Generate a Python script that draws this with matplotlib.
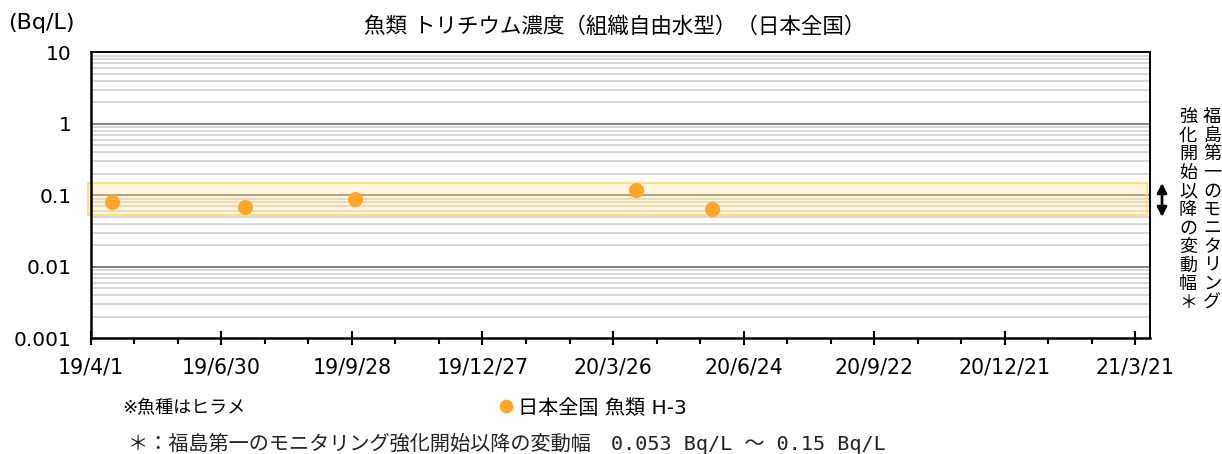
import numpy as np
import pandas as pd
import matplotlib
matplotlib.use("Agg")
from matplotlib import pyplot as plt
import matplotlib.dates as mdates
from matplotlib.patches import Rectangle

plt.rcParams['font.family'] = ['DejaVu Sans', 'Noto Sans CJK JP']

# sample dates and tritium (OBT) concentration, Bq/L
sample_dates = ["2019-04-16", "2019-07-16", "2019-09-30", "2020-04-11", "2020-06-02"]
h3_values = [0.080, 0.069, 0.089, 0.119, 0.064]

# range since start of enhanced monitoring, Bq/L
band_low = 0.053
band_high = 0.15

tick_dates = ["2019-04-01", "2019-06-30", "2019-09-28", "2019-12-27", "2020-03-26",
              "2020-06-24", "2020-09-22", "2020-12-21", "2021-03-21"]
tick_labels = ["19/4/1", "19/6/30", "19/9/28", "19/12/27", "20/3/26",
               "20/6/24", "20/9/22", "20/12/21", "21/3/21"]
y_ticks = [0.001, 0.01, 0.1, 1, 10]
y_labels = ["0.001", "0.01", "0.1", "1", "10"]

title = "魚類 トリチウム濃度（組織自由水型）（日本全国）"
series_name = "日本全国 魚類 H-3"
side_note_1 = "福島第一のモニタリング"
side_note_2 = "強化開始以降の変動幅＊"
footnote = "＊：福島第一のモニタリング強化開始以降の変動幅　0.053 Bq/L ～ 0.15 Bq/L"

W, H = 1222, 454
fig = plt.figure(figsize=(W / 100, H / 100), dpi=100)
ax = fig.add_axes([90.7 / W, 1 - 338.3 / H, (1150 - 90.7) / W, (338.3 - 52.3) / H])

x0 = pd.Timestamp("2019-04-01")
x1 = pd.Timestamp("2021-03-31")
ax.set_xlim(mdates.date2num(x0), mdates.date2num(x1))
ax.set_yscale("log")
ax.set_ylim(0.001, 10)

# grid: light minor lines, dark decade lines
for dec in range(-3, 1):
    for m in range(2, 10):
        ax.axhline(m * 10.0 ** dec, color="#d4d4d4", lw=1.3, zorder=1)
for v in y_ticks[1:-1]:
    ax.axhline(v, color="#6e6e6e", lw=1.2, zorder=1.5)

# variation band
ax.add_patch(Rectangle((-0.003, band_low), 1.0, band_high - band_low,
                       transform=ax.get_yaxis_transform(), facecolor="#ffe699",
                       alpha=0.35, edgecolor="none", zorder=2, clip_on=False))
ax.add_patch(Rectangle((-0.003, band_low), 1.0, band_high - band_low,
                       transform=ax.get_yaxis_transform(), facecolor="none",
                       edgecolor="#ffd966", lw=1.2, zorder=2.1, clip_on=False))

xs = mdates.date2num(pd.to_datetime(sample_dates))
ax.plot(xs, h3_values, "o", ms=9.8, color="#ffa62b", mec="#ffa62b",
        zorder=4, label=series_name)

# axes frame
for side in ["left", "bottom"]:
    ax.spines[side].set_linewidth(1.8)
for side in ["top", "right"]:
    ax.spines[side].set_linewidth(1.4)
for s in ax.spines.values():
    s.set_color("black")
    s.set_zorder(5)

ax.set_yticks(y_ticks)
ax.set_yticklabels(y_labels)
ax.yaxis.set_minor_locator(matplotlib.ticker.NullLocator())
ax.tick_params(axis="y", length=0, pad=14, labelsize=14.5)

major_pos = mdates.date2num(pd.to_datetime(tick_dates))
ax.set_xticks(major_pos)
ax.set_xticklabels(tick_labels)
minor_pos = mdates.date2num(pd.date_range(x0, x1, freq="30D"))
ax.set_xticks([p for p in minor_pos if p not in set(major_pos)], minor=True)
ax.tick_params(axis="x", which="major", direction="inout", length=10, width=1.5,
               pad=9, labelsize=14.8)
ax.tick_params(axis="x", which="minor", direction="out", length=4, width=1.5)

fig.text(615 / W, 1 - 27 / H, title, ha="center", va="center", fontsize=15.5)
fig.text(8 / W, 1 - 23 / H, "(Bq/L)", ha="left", va="center", fontsize=16)

# side note in vertical writing with a double arrow
fig.text(1212 / W, 1 - 108 / H, "\n".join(side_note_1), ha="center", va="top",
         fontsize=13, linespacing=1.04)
fig.text(1188 / W, 1 - 108 / H, "\n".join(side_note_2), ha="center", va="top",
         fontsize=13, linespacing=1.04)
ax.annotate("", xy=(1162 / W, 1 - 183 / H), xytext=(1162 / W, 1 - 217 / H),
            xycoords="figure fraction", textcoords="figure fraction",
            arrowprops=dict(arrowstyle="<|-|>", color="black", lw=2,
                            mutation_scale=14, shrinkA=0, shrinkB=0))

fig.text(122 / W, 1 - 408 / H, "※魚種はヒラメ", ha="left", va="center", fontsize=13)
fig.legend(loc="center left", bbox_to_anchor=(486 / W, 1 - 408 / H), frameon=False,
           fontsize=14.5, handletextpad=0.1, handlelength=1.0, borderpad=0,
           markerscale=0.9)

fig.text(128 / W, 1 - 443 / H, footnote, ha="left", va="center", fontsize=14.5,
         family=["DejaVu Sans Mono", "Noto Sans CJK JP"], color="#222222")

fig.savefig("out.png", dpi=100)
plt.close(fig)
